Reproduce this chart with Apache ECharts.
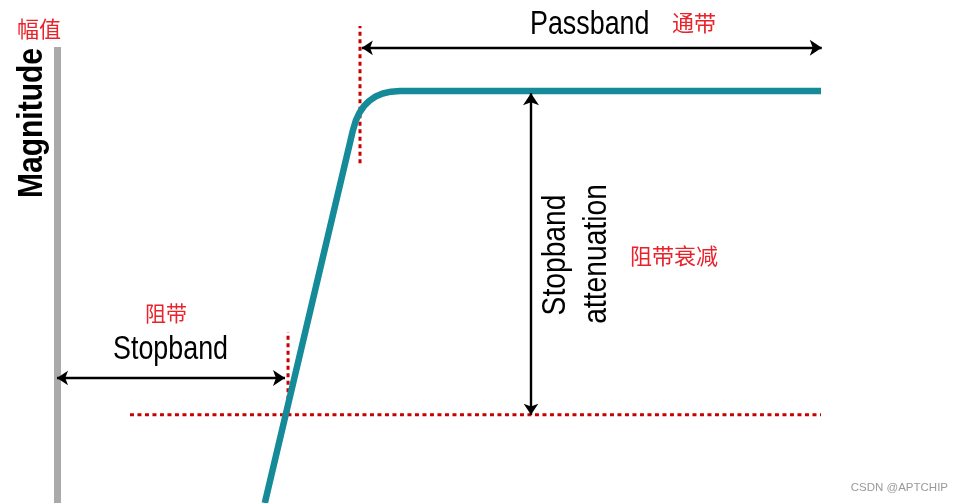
<!DOCTYPE html>
<html>
<head>
<meta charset="utf-8">
<script src="https://cdn.jsdelivr.net/npm/echarts@6/dist/echarts.min.js"></script>
<style>html,body{margin:0;padding:0;background:#fff;}#c{width:964px;height:503px;}</style>
</head>
<body>
<div id="c"></div>
<script>
// Filter response curve (normalized frequency 0..100, magnitude 0..~110)
const curveX = [27.2, 38.74, 39.10, 39.57, 40.16, 40.87, 41.70, 42.64, 43.71, 44.90, 100];
const curveY = [0, 90.53, 92.75, 94.68, 96.30, 97.63, 98.67, 99.42, 99.85, 100, 100];

// Reference guides
const stopbandLevel = 21.4;
const stopbandLineX = [9.55, 100];
const passbandEdgeX = 39.66;
const passbandEdgeY = [82.5, 115.8];
const stopbandEdgeX = 30.24;
const stopbandEdgeY = [21.4, 41.5];

// Dimension arrows [x1, y1, x2, y2]
const passbandArrow = [39.9, 110.5, 100.1, 110.5];
const stopbandArrow = [0, 30.35, 29.84, 30.35];
const attenuationArrow = [62.04, 21.4, 62.04, 99.5];

const labels = {
  magnitudeCn: '幅值', magnitude: 'Magnitude',
  passband: 'Passband', passbandCn: '通带',
  stopband: 'Stopband', stopbandCn: '阻带',
  atten1: 'Stopband', atten2: 'attenuation', attenCn: '阻带衰减',
  credit: 'CSDN @APTCHIP'
};

const chart = echarts.init(document.getElementById('c'), null, {renderer: 'canvas'});
const red = '#c80000';
const cnRed = '#e8232b';
const dotted = (data) => ({
  type: 'line', data, symbol: 'none', clip: false, silent: true, z: 3,
  lineStyle: {color: red, width: 3, type: [4, 3.5]}
});
const arrow = (a) => ({
  type: 'lines', coordinateSystem: 'cartesian2d', clip: false, silent: true, z: 5,
  symbol: ['arrow', 'arrow'], symbolSize: [11, 12],
  lineStyle: {color: '#000', width: 2.4, opacity: 1, curveness: 0},
  data: [{coords: [[a[0], a[1]], [a[2], a[3]]]}]
});
const sans = "'Liberation Sans', Arial, sans-serif";
const cn = "'Noto Sans CJK SC', sans-serif";

chart.setOption({
  animation: false,
  backgroundColor: '#fff',
  grid: {left: 57, right: 143, top: 47, bottom: 0},
  xAxis: {type: 'value', min: 0, max: 100, show: false},
  yAxis: {
    type: 'value', min: 0, max: 110.7,
    axisLine: {show: true, lineStyle: {color: '#aaaaaa', width: 7, cap: 'butt'}},
    axisTick: {show: false}, axisLabel: {show: false}, splitLine: {show: false}
  },
  series: [
    {
      type: 'line', data: curveX.map((x, i) => [x, curveY[i]]),
      symbol: 'none', clip: false, z: 4,
      lineStyle: {color: '#158a98', width: 6.5, cap: 'butt', join: 'round'}
    },
    dotted([[stopbandLineX[0], stopbandLevel], [stopbandLineX[1], stopbandLevel]]),
    dotted([[passbandEdgeX, passbandEdgeY[0]], [passbandEdgeX, passbandEdgeY[1]]]),
    dotted([[stopbandEdgeX, stopbandEdgeY[0]], [stopbandEdgeX, stopbandEdgeY[1]]]),
    arrow(passbandArrow),
    arrow(stopbandArrow),
    arrow(attenuationArrow)
  ],
  graphic: [
    {type: 'text', x: 17, y: 29, style: {text: labels.magnitudeCn, font: '22px ' + cn, fill: cnRed, textVerticalAlign: 'middle'}},
    {type: 'text', x: 32, y: 123, rotation: Math.PI / 2, scaleX: 0.857,
      style: {text: labels.magnitude, font: 'bold 35px ' + sans, fill: '#000', textAlign: 'center', textVerticalAlign: 'middle'}},
    {type: 'text', x: 530, y: 25, scaleX: 0.79,
      style: {text: labels.passband, font: '34px ' + sans, fill: '#000', textVerticalAlign: 'middle'}},
    {type: 'text', x: 672, y: 23, style: {text: labels.passbandCn, font: '22px ' + cn, fill: cnRed, textVerticalAlign: 'middle'}},
    {type: 'text', x: 113, y: 350, scaleX: 0.79,
      style: {text: labels.stopband, font: '34px ' + sans, fill: '#000', textVerticalAlign: 'middle'}},
    {type: 'text', x: 145, y: 313, style: {text: labels.stopbandCn, font: '21px ' + cn, fill: cnRed, textVerticalAlign: 'middle'}},
    {type: 'text', x: 556, y: 255, rotation: Math.PI / 2, scaleX: 0.83,
      style: {text: labels.atten1, font: '34px ' + sans, fill: '#000', textAlign: 'center', textVerticalAlign: 'middle'}},
    {type: 'text', x: 597, y: 254, rotation: Math.PI / 2, scaleX: 0.83,
      style: {text: labels.atten2, font: '34px ' + sans, fill: '#000', textAlign: 'center', textVerticalAlign: 'middle'}},
    {type: 'text', x: 630, y: 256, style: {text: labels.attenCn, font: '22px ' + cn, fill: cnRed, textVerticalAlign: 'middle'}},
    {type: 'text', x: 948, y: 488, style: {text: labels.credit, font: '11.5px ' + sans, fill: '#9a9a9a', textAlign: 'right', textVerticalAlign: 'middle'}}
  ]
});
</script>
</body>
</html>
